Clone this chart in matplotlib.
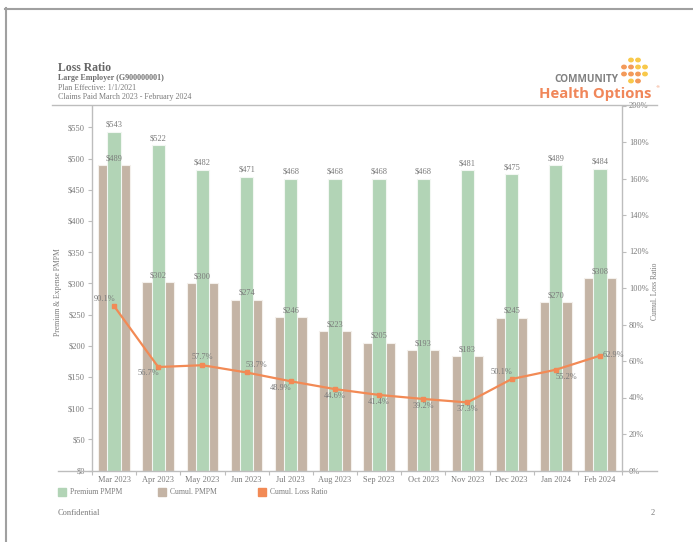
import numpy as np
import matplotlib
matplotlib.use("Agg")
import matplotlib.pyplot as plt
from matplotlib.lines import Line2D
from matplotlib.patches import Rectangle, Circle
from matplotlib.ticker import FuncFormatter, MultipleLocator

# ── Data ─────────────────────────────────────────────────────────────────────
months = ["Mar 2023", "Apr 2023", "May 2023", "Jun 2023", "Jul 2023", "Aug 2023",
          "Sep 2023", "Oct 2023", "Nov 2023", "Dec 2023", "Jan 2024", "Feb 2024"]
premium_pmpm = [543, 522, 482, 471, 468, 468, 468, 468, 481, 475, 489, 484]
cumul_pmpm = [489, 302, 300, 274, 246, 223, 205, 193, 183, 245, 270, 308]
cumul_loss_ratio = [90.1, 56.7, 57.7, 53.7, 48.9, 44.6, 41.4, 39.2, 37.3, 50.1, 55.2, 62.9]

# label offsets (px) for loss ratio annotations
lr_offsets = [(-10, 7), (-10, -6), (0, 8), (10, 7), (-10, -7), (0, -7),
              (0, -7), (0, -7), (0, -7), (-10, 7), (11, -7), (13, 1)]

# ── Style ────────────────────────────────────────────────────────────────────
GREEN = "#b2d4b6"
TAN = "#c4b4a5"
ORANGE = "#f28a55"
TEXT = "#7a7a7a"
AXIS = "#bdbdbd"
plt.rcParams["font.family"] = ["Liberation Serif", "DejaVu Serif"]

W, H = 693, 542
fig = plt.figure(figsize=(W / 100, H / 100), dpi=100)


def fx(px):
    return px / W


def fy(py):
    return 1 - py / H


# page border
fig.add_artist(Line2D([fx(5), fx(693)], [fy(8.5), fy(8.5)], color="#a0a0a0", lw=1.5))
fig.add_artist(Line2D([fx(5.5), fx(5.5)], [fy(8), fy(542)], color="#a0a0a0", lw=1.5))

# header
fig.text(fx(58), fy(68), "Loss Ratio", fontsize=8.5, fontweight="bold", color="#666666", va="center")
fig.text(fx(58), fy(78.5), "Large Employer (G900000001)", fontsize=5.8, fontweight="bold",
         color="#6e6e6e", va="center")
fig.text(fx(58), fy(87.5), "Plan Effective: 1/1/2021", fontsize=5.8, color=TEXT, va="center")
fig.text(fx(58), fy(97), "Claims Paid March 2023 - February 2024", fontsize=5.8, color=TEXT, va="center")
fig.add_artist(Line2D([fx(52), fx(657)], [fy(105), fy(105)], color=AXIS, lw=1))

# logo
fig.text(fx(618), fy(80), "COMMUNITY", fontsize=7.2, fontweight="bold", color="#808080",
         family="Open Sans", ha="right", va="center")
fig.text(fx(539), fy(94), "Health Options", fontsize=10.7, fontweight="bold", color="#f0875a",
         family="Open Sans", ha="left", va="center")
fig.text(fx(655), fy(87), "®", fontsize=3.2, color="#f0875a", family="DejaVu Sans", va="center")
YEL, ORG = "#f8c94a", "#f39a5a"
dots = [(631, 60, YEL), (638, 60, YEL),
        (624, 67, ORG), (631, 67, ORG), (638, 67, YEL), (645, 67, YEL),
        (624, 74, ORG), (631, 74, ORG), (638, 74, ORG), (645, 74, YEL),
        (631, 81, YEL), (638, 81, ORG)]
for dx, dy, c in dots:
    fig.add_artist(Circle((fx(dx), fy(dy)), radius=fx(2.2), color=c, transform=fig.transFigure))

# ── Chart ────────────────────────────────────────────────────────────────────
left, right, top, bottom = 92, 622, 105.5, 470.5
ax = fig.add_axes([fx(left), fy(bottom), fx(right - left), (bottom - top) / H])
x = np.arange(len(months))

ax.bar(x, cumul_pmpm, width=0.72, color=TAN, edgecolor="#f4f0ec", linewidth=0.8, zorder=2)
ax.bar(x, premium_pmpm, width=0.30, color=GREEN, edgecolor="#f2f7f2", linewidth=0.8, zorder=3)

for xi, v in zip(x, premium_pmpm):
    ax.annotate(f"${v}", (xi, v), xytext=(0, 2), textcoords="offset points",
                ha="center", va="bottom", fontsize=6, color=TEXT, zorder=6)
for xi, v in zip(x, cumul_pmpm):
    ax.annotate(f"${v}", (xi, v), xytext=(0, 2), textcoords="offset points",
                ha="center", va="bottom", fontsize=6, color=TEXT, zorder=6)

ax.set_xlim(-0.5, len(months) - 0.5)
ax.set_ylim(0, 585)
ax.yaxis.set_major_locator(MultipleLocator(50))
ax.yaxis.set_major_formatter(FuncFormatter(lambda v, p: f"${v:.0f}"))
ax.set_xticks(x)
ax.set_xticklabels(months)
ax.set_xticks(np.arange(-0.5, len(months)), minor=True)
ax.tick_params(axis="x", which="major", length=0, labelsize=6, labelcolor=TEXT, pad=4)
ax.tick_params(axis="x", which="minor", length=3, color=AXIS, width=0.8)
ax.tick_params(axis="y", length=3, color=AXIS, width=0.8, labelsize=6, labelcolor=TEXT, pad=2)
for s in ["top", "bottom", "right"]:
    ax.spines[s].set_visible(False)
ax.spines["left"].set_color(AXIS)
ax.spines["left"].set_linewidth(1)
ax.set_ylabel("Premium & Expense PMPM", fontsize=5.5, color=TEXT)
ax.yaxis.set_label_coords(-0.057, 0.49)
fig.canvas.draw()
ax.get_yticklabels()[0].set_va("bottom")

# loss ratio on secondary axis
ax2 = ax.twinx()
ax2.plot(x, cumul_loss_ratio, color=ORANGE, lw=1.6, marker="s", markersize=2.6, zorder=5)
for xi, v, (ox, oy) in zip(x, cumul_loss_ratio, lr_offsets):
    ax2.annotate(f"{v:.1f}%", (xi, v), xytext=(ox, oy), textcoords="offset pixels",
                 ha="center", va="center", fontsize=6, color=TEXT, zorder=6)
ax2.set_ylim(0, 200)
ax2.yaxis.set_major_locator(MultipleLocator(20))
ax2.yaxis.set_major_formatter(FuncFormatter(lambda v, p: f"{v:.0f}%"))
ax2.tick_params(axis="y", length=3, color=AXIS, width=0.8, labelsize=6, labelcolor=TEXT, pad=2)
for s in ["top", "bottom", "left"]:
    ax2.spines[s].set_visible(False)
ax2.spines["right"].set_color(AXIS)
ax2.spines["right"].set_linewidth(1)
ax2.set_ylabel("Cumul. Loss Ratio", fontsize=5.5, color=TEXT, rotation=90)
ax2.yaxis.set_label_coords(1.055, 0.49)
fig.canvas.draw()
ax2.get_yticklabels()[-1].set_va("top")

# bottom axis line, extended past the plot area
fig.add_artist(Line2D([fx(58), fx(657)], [fy(470.5), fy(470.5)], color=AXIS, lw=1))

# legend
legend_items = [("Premium PMPM", GREEN, 58), ("Cumul. PMPM", TAN, 158), ("Cumul. Loss Ratio", ORANGE, 258)]
for label, c, px in legend_items:
    fig.add_artist(Rectangle((fx(px), fy(496)), fx(8), 8 / H, color=c, transform=fig.transFigure))
    fig.text(fx(px + 12), fy(492), label, fontsize=5.5, color=TEXT, va="center")

# footer
fig.text(fx(58), fy(513), "Confidential", fontsize=6, color=TEXT, va="center")
fig.text(fx(655), fy(513), "2", fontsize=6, color=TEXT, va="center", ha="right")

fig.savefig("out.png", dpi=100, facecolor="white")
